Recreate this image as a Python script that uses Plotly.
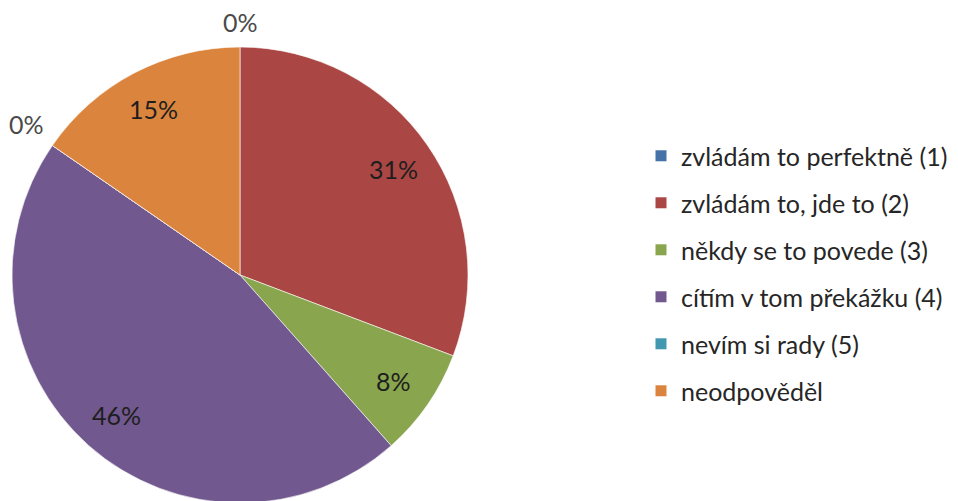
import math
import plotly.graph_objects as go

categories = ["zvládám to perfektně (1)", "zvládám to, jde to (2)", "někdy se to povede (3)",
              "cítím v tom překážku (4)", "nevím si rady (5)", "neodpověděl"]
counts = [0, 4, 1, 6, 0, 2]
colors = ["#4572A7", "#AA4643", "#89A54E", "#71588F", "#4198AF", "#DB843D"]

FONT = "Lato"
FS = 25
W, H = 958, 501
# pie geometry (figure pixels)
CX, CY, R = 232, 267, 228

fig = go.Figure()
fig.add_trace(go.Pie(
    labels=categories, values=counts, sort=False, direction="clockwise", rotation=0,
    marker=dict(colors=colors, line=dict(color="rgba(255,255,255,0.6)", width=1)),
    textinfo="none", showlegend=False, hoverinfo="label+percent",
    domain=dict(x=[(CX - R) / W, (CX + R) / W], y=[1 - (CY + R) / H, 1 - (CY - R) / H]),
))

# data labels placed along each slice's mid-angle (computed from the values)
total = sum(counts)
cum = 0
annotations = []
for v in counts:
    mid = (cum + v / 2) / total * 2 * math.pi
    cum += v
    pct = f"{round(100 * v / total)}%"
    s, c = math.sin(mid), math.cos(mid)
    if v > 0:
        f = 0.82
        annotations.append(dict(x=(CX + f * R * s) / W, y=1 - (CY - f * R * c) / H,
                                xref="paper", yref="paper", text=pct, showarrow=False,
                                xanchor="center", yanchor="middle",
                                font=dict(family=FONT, size=FS, color="#1e1e1e")))
    else:
        d = R + 8
        xa = "center" if abs(s) < 0.3 else ("left" if s > 0 else "right")
        annotations.append(dict(x=(CX + d * s) / W, y=1 - (CY - d * c) / H,
                                xref="paper", yref="paper", text=pct, showarrow=False,
                                xanchor=xa, yanchor="bottom",
                                font=dict(family=FONT, size=FS, color="#4a4a4a")))

for name, col in zip(categories, colors):
    fig.add_trace(go.Scatter(x=[None], y=[None], mode="markers", name=name,
                             legendgroup=name,
                             marker=dict(symbol="square", size=11, color=col)))

fig.update_layout(
    width=W, height=H, margin=dict(l=0, r=0, t=0, b=0),
    paper_bgcolor="white", plot_bgcolor="white",
    xaxis=dict(visible=False), yaxis=dict(visible=False),
    annotations=annotations,
    legend=dict(x=633 / W, y=0.47, xanchor="left", yanchor="middle",
                font=dict(family=FONT, size=FS, color="#262626"),
                itemwidth=30, tracegroupgap=11.5, bgcolor="rgba(0,0,0,0)"),
    font=dict(family=FONT),
)
fig.write_html("out.html")
